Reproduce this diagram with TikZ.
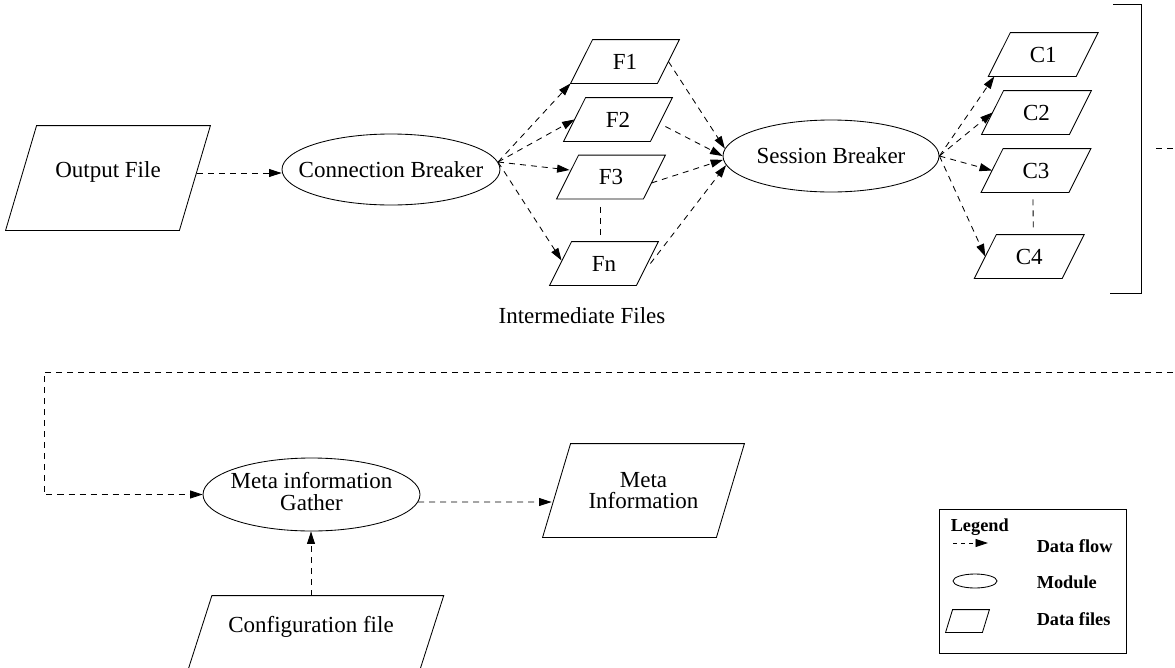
\documentclass[tikz,border=0pt]{standalone}
\usepackage{fontspec}
\setmainfont{Liberation Serif}
\usetikzlibrary{arrows.meta,calc,shapes.geometric}
% zero-width text, so an ellipse keeps its given size
\newcommand\ztext[1]{\makebox[0pt]{#1}}
\begin{document}
\begin{tikzpicture}[x=1pt,y=-1pt,
  line width=0.85pt,
  font=\fontsize{23}{21.5}\selectfont,
  module/.style={draw, ellipse, inner sep=0pt, minimum width=#1, minimum height=72pt},
  datafile/.style={rectangle, inner sep=0pt},
  fbox/.style={datafile, minimum width=86pt, minimum height=43pt},
  cbox/.style={datafile, minimum width=87pt, minimum height=43pt},
  flow/.style={dash pattern=on 6pt off 5pt, -{Triangle[length=12.5pt,width=8pt]}},
  link/.style={dash pattern=on 6pt off 5pt},
  legendtext/.style={anchor=base west, font=\fontsize{18.3}{20}\selectfont\bfseries},
]
\useasboundingbox (0,0) rectangle (1175,667);
\clip (0,0) rectangle (1175,667);

% ---- first stage: splitting the output file
\node[datafile, minimum width=173pt, text height=51pt, text depth=53pt] (of) at (108,178) {Output File};
\node[module=218pt, minimum height=71pt] (cb) at (391,169.5) {\ztext{Connection Breaker}};
\node[fbox] (f1) at (625,61.5) {F1};
\node[fbox] (f2) at (618,119.5) {F2};
\node[fbox] (f3) at (611,177) {F3};
\node[fbox] (fn) at (604,263.5) {Fn};
\node[anchor=base] (inter) at (582,323) {Intermediate Files};
\node[module=216pt] (sb) at (831,156) {\ztext{Session Breaker}};
\node[cbox] (c1) at (1043.25,54.5) {C1};
\node[cbox] (c2) at (1036.5,112.5) {C2};
\node[cbox] (c3) at (1036,170.5) {C3};
\node[cbox] (c4) at (1029.25,256.5) {C4};

% bracket grouping the sessions
\coordinate (brk) at (1141,148);
\draw (1113,4) -| (brk) |- (1110,293);

% ---- second stage: gathering meta information
\node[module=217pt, minimum height=73pt] (mg) at (311.5,494.5)
  {\ztext{\begin{tabular}{@{}c@{}}Meta information\\Gather\end{tabular}}};
\node[datafile, minimum width=173pt, minimum height=93pt, align=center] (mi) at (643.5,490.5) {Meta\\Information};
\node[datafile, minimum width=231pt, text height=36pt, text depth=68pt] (cfg) at (311,648) {Configuration file};

% data file outlines (slanted)
\foreach \n/\s in {of/15.5, f1/11, f2/11, f3/11, fn/11, c1/11, c2/11, c3/11, c4/11, mi/14, cfg/16.8}
  \draw ($(\n.north west)+(\s,0)$) -- ($(\n.north east)+(\s,0)$)
     -- ($(\n.south east)+(-\s,0)$) -- ($(\n.south west)+(-\s,0)$) -- cycle;

% ---- data flow
\draw[flow] ($(of.east)+(2,-5)$) -- ($(cb.west)+(0,3.5)$);

\draw[flow] (cb.4) -- ($(f1.south west)+(-11,0)$);
\draw[flow] (cb.4) -- (f2.west);
\draw[flow] (cb.4) -- ($(f3.west)+(2,-7)$);
\draw[flow] (cb.4) -- ($(fn.west)+(1,-3)$);
\draw[link] ($(f3.south)+(-11,8)$) -- ($(fn.north)+(-4,-7)$);

\draw[flow] (f1.east) -- (sb.176);
\draw[flow] ($(f2.east)+(4,7)$) -- (sb.180);
\draw[flow] ($(f3.east)+(-3,6)$) -- (sb.182);
\draw[flow] ($(fn.east)+(3,0)$) -- (sb.185);

\draw[flow] (sb.east) -- ($(c1.south west)+(-5,0)$);
\draw[flow] (sb.east) -- (c2.west);
\draw[flow] (sb.east) -- (c3.west);
\draw[flow] (sb.east) -- (c4.west);
\draw[link] ($(c3.south)+(-3,7)$) -- ($(c4.north)+(4,-7)$);

% feedback from the sessions into the gatherer
\coordinate (loopa) at (1190,148);
\coordinate (loopb) at (1190,372);
\coordinate (loopc) at (44,372);
\draw[flow] ($(brk)+(15,0)$) -- (loopa) -- (loopb) -- (loopc) |- (mg.west);

\draw[flow] (mg.-4) -- ($(mi.west)+(-5,11.5)$);
\draw[flow] (cfg.north) -- (cfg.north |- mg.south);

% ---- legend
\draw (939,509) rectangle (1126,653);
\node[legendtext] (lgt) at (947,531) {Legend};
\coordinate (lga) at (953,543);
\coordinate (lgb) at (988,543);
\draw[flow, dash pattern=on 4pt off 4pt] (lga) -- (lgb);
\node[legendtext] (lgflow) at (1033,552) {Data flow};
\node[draw, ellipse, inner sep=0pt, minimum width=44pt, minimum height=14pt] (lgm) at (975,581) {};
\node[legendtext] (lgmod) at (1033,588) {Module};
\node[datafile, minimum width=36pt, minimum height=22pt] (lgf) at (967.5,621) {};
\draw ($(lgf.north west)+(3.5,0)$) -- ($(lgf.north east)+(3.5,0)$)
   -- ($(lgf.south east)+(-3.5,0)$) -- ($(lgf.south west)+(-3.5,0)$) -- cycle;
\node[legendtext] (lgfile) at (1033,625) {Data files};
\end{tikzpicture}
\end{document}
